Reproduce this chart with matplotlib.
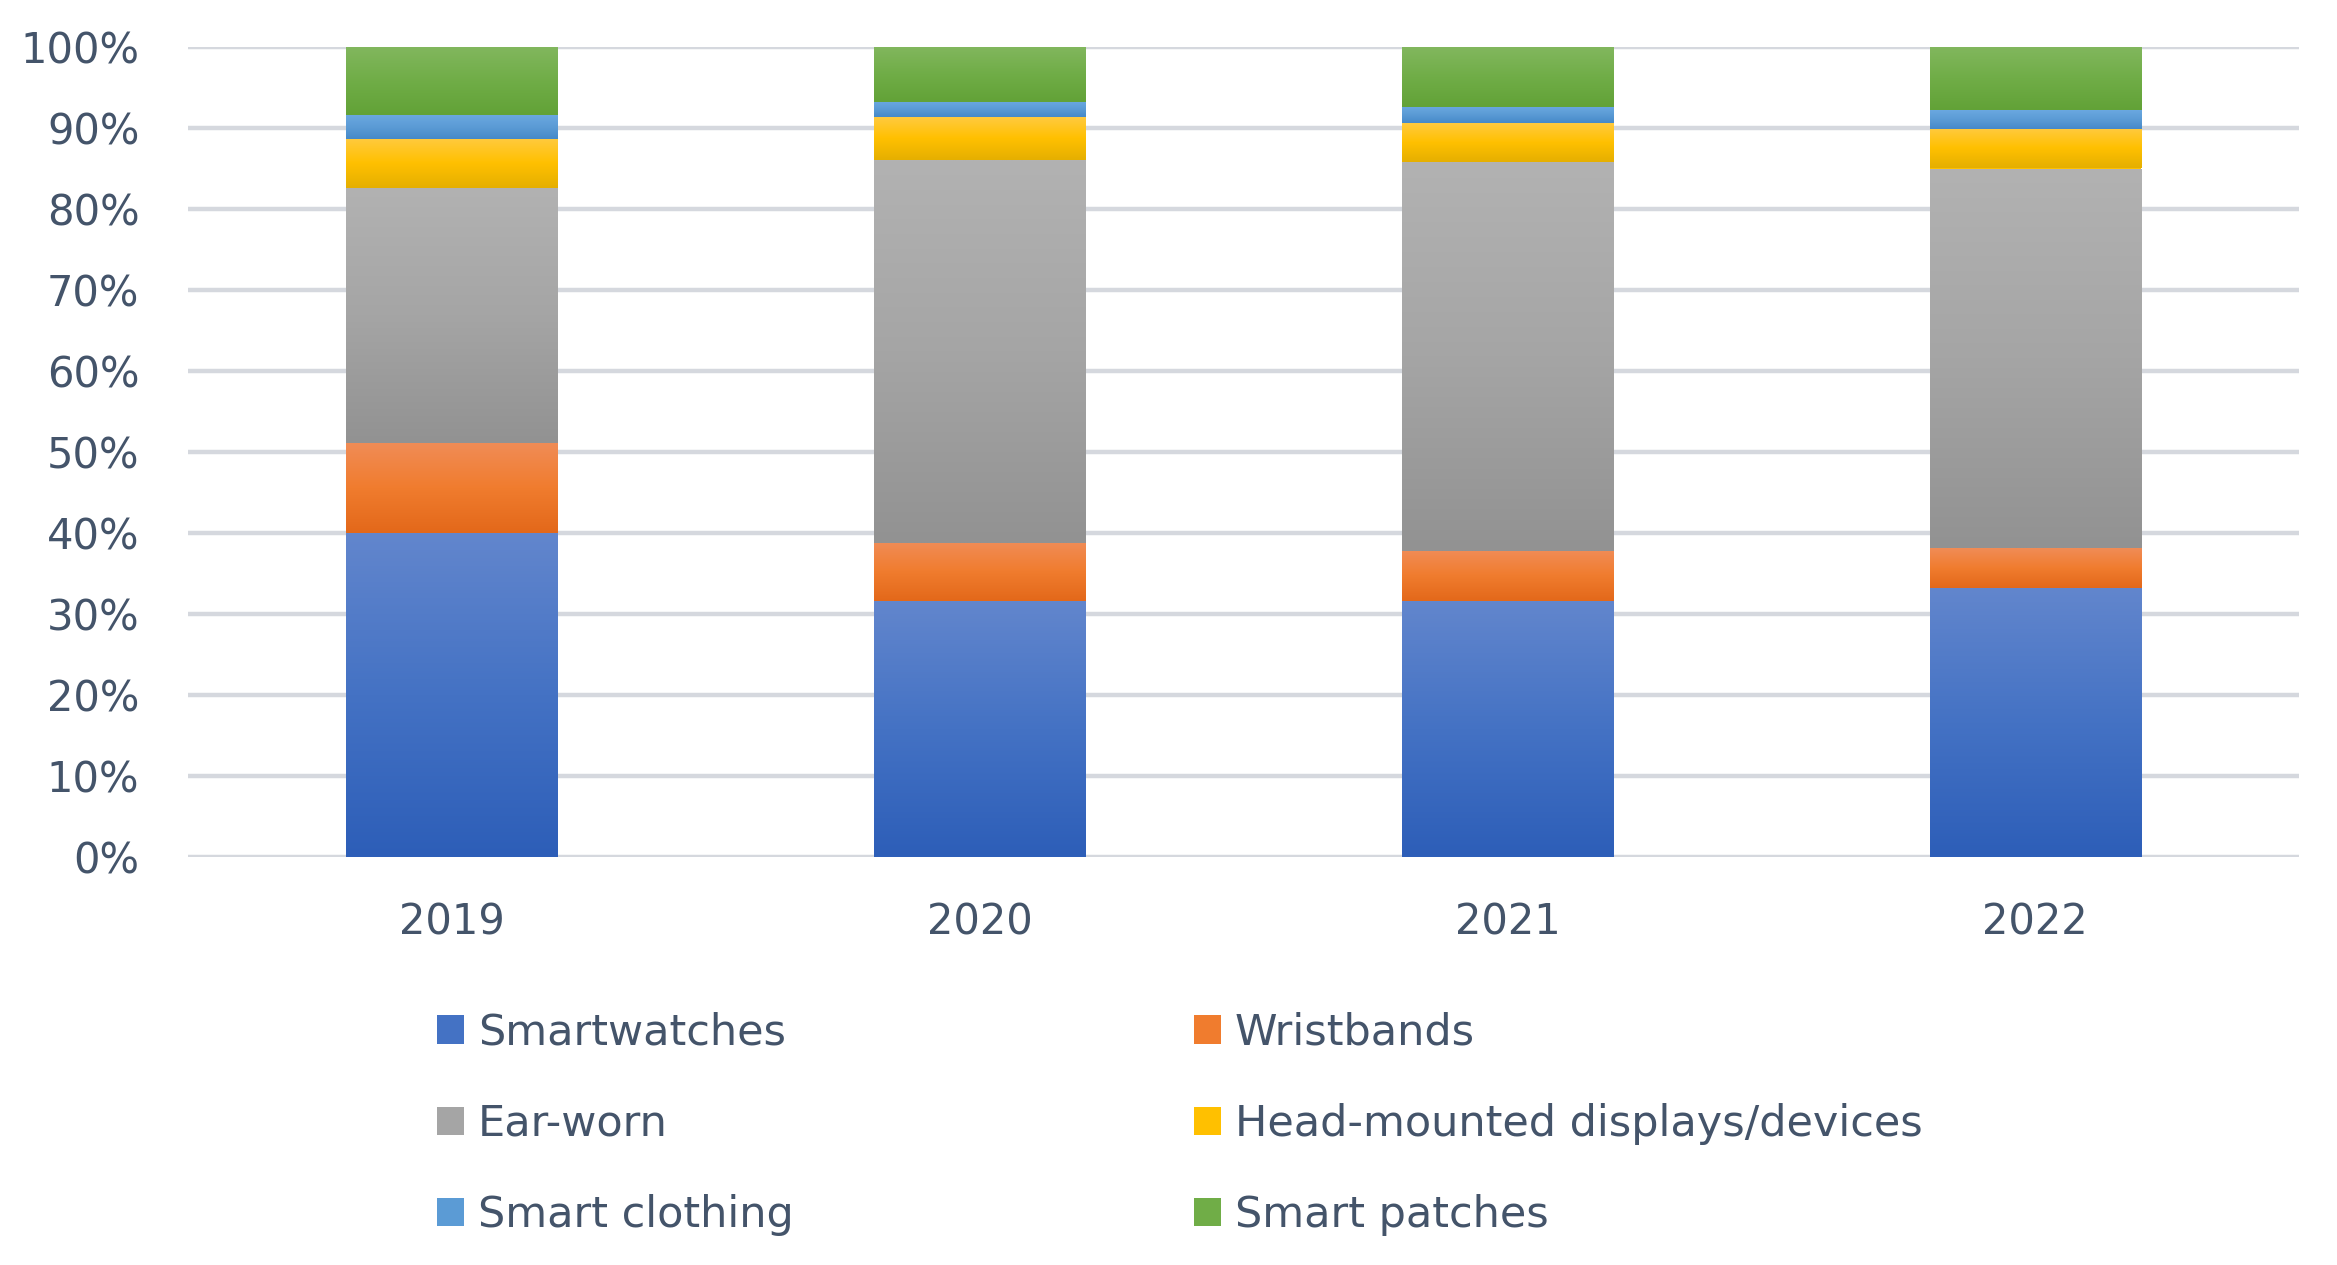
import numpy as np
import matplotlib
matplotlib.use("Agg")
import matplotlib.pyplot as plt
from matplotlib.colors import LinearSegmentedColormap
from matplotlib.patches import Patch

years = ["2019", "2020", "2021", "2022"]
series = ["Smartwatches", "Wristbands", "Ear-worn",
          "Head-mounted displays/devices", "Smart clothing", "Smart patches"]
smartwatches = [40.0, 31.6, 31.6, 33.2]
wristbands = [11.1, 7.2, 6.2, 4.9]
ear_worn = [31.5, 47.2, 48.0, 46.9]
head_mounted = [6.1, 5.3, 4.8, 4.9]
smart_clothing = [2.9, 1.9, 2.0, 2.3]
smart_patches = [8.4, 6.8, 7.4, 7.8]
yticks = [0, 10, 20, 30, 40, 50, 60, 70, 80, 90, 100]

values = [smartwatches, wristbands, ear_worn, head_mounted, smart_clothing, smart_patches]
# (top, mid, bottom) gradient colours
grads = [("#6286CD", "#4472C4", "#2D5EB8"),
         ("#F18C56", "#F07C2E", "#E3681A"),
         ("#B2B2B2", "#A5A5A5", "#929292"),
         ("#FFCA3F", "#FFC000", "#E5AF00"),
         ("#6AA8E0", "#5B9BD5", "#4589C9"),
         ("#82B75E", "#70AD47", "#62A237")]

text_color = "#44546A"
fig = plt.figure(figsize=(23.37, 12.65), dpi=100)
ax = fig.add_axes([188/2337, 1-857/1265, (2299-188)/2337, (857-47)/1265])

x = np.arange(len(years))
bottom = np.zeros(len(years))
handles = []
for vals, (top, mid, bot), name in zip(values, grads, series):
    bars = ax.bar(x, vals, width=0.40, bottom=bottom, color=mid, linewidth=0, zorder=2)
    cmap = LinearSegmentedColormap.from_list(name, [bot, mid, top])
    grad = np.linspace(0, 1, 256).reshape(-1, 1)
    for r in bars:
        x0, y0, w, h = r.get_x(), r.get_y(), r.get_width(), r.get_height()
        im = ax.imshow(grad, extent=[x0, x0 + w, y0, y0 + h], origin="lower",
                       aspect="auto", cmap=cmap, zorder=3, interpolation="bilinear")
        im.set_clip_path(r)
    bottom += np.array(vals)
    handles.append(Patch(facecolor=mid, edgecolor="none", label=name))

ax.set_xlim(-0.5, len(years) - 0.5)
ax.set_ylim(0, 100)
ax.set_yticks(yticks)
ax.set_yticklabels([f"{t}%" for t in yticks])
ax.set_xticks(x)
ax.set_xticklabels(years)
ax.tick_params(axis="both", length=0, labelsize=30, labelcolor=text_color)
ax.tick_params(axis="y", pad=35)
ax.tick_params(axis="x", pad=32)
for s in ax.spines.values():
    s.set_visible(False)
ax.yaxis.grid(True, color="#D5D8DE", linewidth=3.2, zorder=0)
ax.set_axisbelow(True)

leg_kw = dict(loc="center left", frameon=False, fontsize=31, borderpad=0,
              handlelength=0.63, handleheight=0.65, handletextpad=0.33,
              labelspacing=1.14, labelcolor=text_color)
ymid = 1 - 1124/1265
fig.legend(handles=[handles[0], handles[2], handles[4]], bbox_to_anchor=(415/2337, ymid), **leg_kw)
fig.legend(handles=[handles[1], handles[3], handles[5]], bbox_to_anchor=(1172/2337, ymid), **leg_kw)

fig.savefig("out.png", dpi=100)
